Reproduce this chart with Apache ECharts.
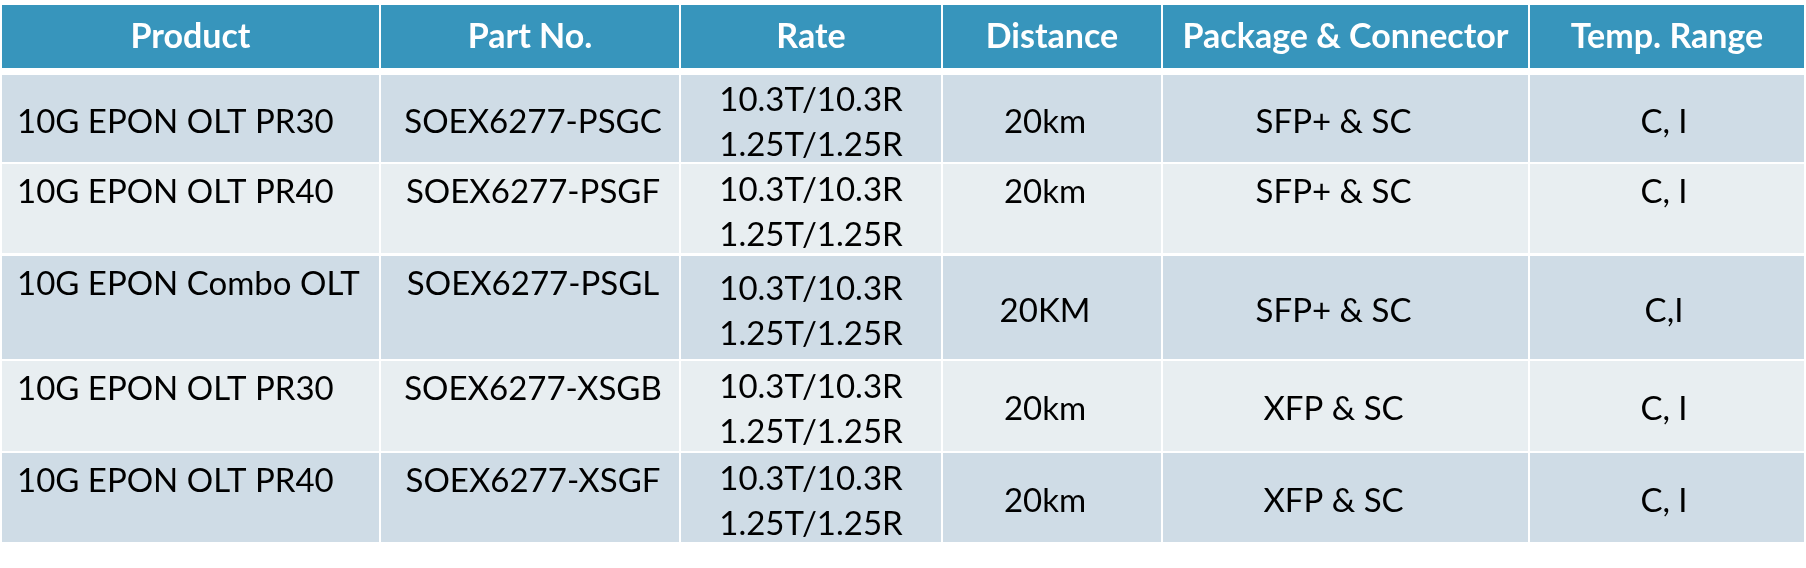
<!DOCTYPE html>
<html>
<head>
<meta charset="utf-8">
<script src="https://cdn.jsdelivr.net/npm/echarts@6/dist/echarts.min.js"></script>
<style>
html,body{margin:0;padding:0;background:#ffffff;}
#chart{width:1806px;height:568px;}
</style>
</head>
<body>
<div id="chart"></div>
<script>
// ---------- table content ----------
const headers = ['Product', 'Part No.', 'Rate', 'Distance', 'Package & Connector', 'Temp. Range'];
const products = ['10G EPON OLT PR30', '10G EPON OLT PR40', '10G EPON Combo OLT', '10G EPON OLT PR30', '10G EPON OLT PR40'];
const partNos = ['SOEX6277-PSGC', 'SOEX6277-PSGF', 'SOEX6277-PSGL', 'SOEX6277-XSGB', 'SOEX6277-XSGF'];
const ratesTx = ['10.3T/10.3R', '10.3T/10.3R', '10.3T/10.3R', '10.3T/10.3R', '10.3T/10.3R'];
const ratesRx = ['1.25T/1.25R', '1.25T/1.25R', '1.25T/1.25R', '1.25T/1.25R', '1.25T/1.25R'];
const distances = ['20km', '20km', '20KM', '20km', '20km'];
const packages = ['SFP+ & SC', 'SFP+ & SC', 'SFP+ & SC', 'XFP & SC', 'XFP & SC'];
const tempRanges = ['C, I', 'C, I', 'C,I', 'C, I', 'C, I'];

// ---------- layout (axis units = pixels) ----------
const colEdges = [2, 380, 680, 942, 1162, 1529, 1804];
const headerBand = [5, 68];
const rowBands = [[75, 162], [164, 253], [256, 359], [361, 451], [453, 542]];
// vertical anchor of single-line cells: 't' = top, 'm' = middle
const vAnchor = [
  ['m', 'm', 'm', 'm', 'm', 'm'],
  ['t', 't', 'm', 't', 't', 't'],
  ['t', 't', 'm', 'm', 'm', 'm'],
  ['t', 't', 'm', 'm', 'm', 'm'],
  ['t', 't', 'm', 'm', 'm', 'm']
];
const bodyShift = [0, 3, 0, -7, -12, -3];

const HEADER_BG = '#3795bc';
const ROW_BG = ['#cfdce6', '#e8eef1'];
const BODY_FONT = '33px Lato';
const HEAD_FONT = 'bold 34px Lato';
const LINE_GAP = 45;

const columns = [products, partNos, null, distances, packages, tempRanges];

const headerData = headers.map((h, c) => ({ value: [c, -1], name: h }));
const bodyData = [];
for (let r = 0; r < products.length; r++) {
  for (let c = 0; c < headers.length; c++) {
    bodyData.push({ value: [c, r] });
  }
}

function rectOf(api, x0, x1, y0, y1) {
  const a = api.coord([x0, y0]);
  const b = api.coord([x1, y1]);
  return {
    x: Math.min(a[0], b[0]), y: Math.min(a[1], b[1]),
    width: Math.abs(b[0] - a[0]), height: Math.abs(b[1] - a[1])
  };
}
function colSpan(c) {
  const x0 = colEdges[c] + (c > 0 ? 1 : 0);
  const x1 = colEdges[c + 1] - (c < headers.length - 1 ? 1 : 0);
  return [x0, x1];
}

function renderHeader(params, api) {
  const c = api.value(0);
  const [x0, x1] = colSpan(c);
  const shape = rectOf(api, x0, x1, headerBand[0], headerBand[1]);
  const mid = api.coord([(x0 + x1) / 2, (headerBand[0] + headerBand[1]) / 2 + 1]);
  return {
    type: 'group',
    children: [
      { type: 'rect', shape: shape, style: { fill: HEADER_BG } },
      { type: 'text', style: { text: headers[c], x: mid[0], y: mid[1], fill: '#ffffff',
        font: HEAD_FONT, align: 'center', verticalAlign: 'middle' } }
    ]
  };
}

function renderBody(params, api) {
  const c = api.value(0);
  const r = api.value(1);
  const [x0, x1] = colSpan(c);
  const [y0, y1] = rowBands[r];
  const shape = rectOf(api, x0, x1, y0, y1);
  const rowMid = (y0 + y1) / 2;
  const children = [{ type: 'rect', shape: shape, style: { fill: ROW_BG[r % 2] } }];
  const tx = c === 0 ? x0 + 15 : (x0 + x1) / 2 + bodyShift[c];
  const align = c === 0 ? 'left' : 'center';
  if (c === 2) {
    const cy = rowMid + 3;
    const p1 = api.coord([tx, cy - LINE_GAP / 2 + 1]);
    const p2 = api.coord([tx, cy + LINE_GAP / 2 + 1]);
    children.push({ type: 'text', style: { text: ratesTx[r], x: p1[0], y: p1[1], fill: '#000000',
      font: BODY_FONT, align: align, verticalAlign: 'middle' } });
    children.push({ type: 'text', style: { text: ratesRx[r], x: p2[0], y: p2[1], fill: '#000000',
      font: BODY_FONT, align: align, verticalAlign: 'middle' } });
  } else {
    const cy = vAnchor[r][c] === 't' ? y0 + 27 : rowMid + 2.5;
    const p = api.coord([tx, cy + 1]);
    children.push({ type: 'text', style: { text: columns[c][r], x: p[0], y: p[1], fill: '#000000',
      font: BODY_FONT, align: align, verticalAlign: 'middle' } });
  }
  return { type: 'group', children: children };
}

const chart = echarts.init(document.getElementById('chart'), null, { renderer: 'canvas' });
chart.setOption({
  animation: false,
  backgroundColor: '#ffffff',
  grid: { left: 0, right: 0, top: 0, bottom: 0 },
  xAxis: { type: 'value', min: 0, max: 1806, show: false },
  yAxis: { type: 'value', min: 0, max: 568, inverse: true, show: false },
  series: [
    { type: 'custom', silent: true, renderItem: renderHeader, data: headerData, encode: { x: -1, y: -1 } },
    { type: 'custom', silent: true, renderItem: renderBody, data: bodyData, encode: { x: -1, y: -1 } }
  ]
});
</script>
</body>
</html>
